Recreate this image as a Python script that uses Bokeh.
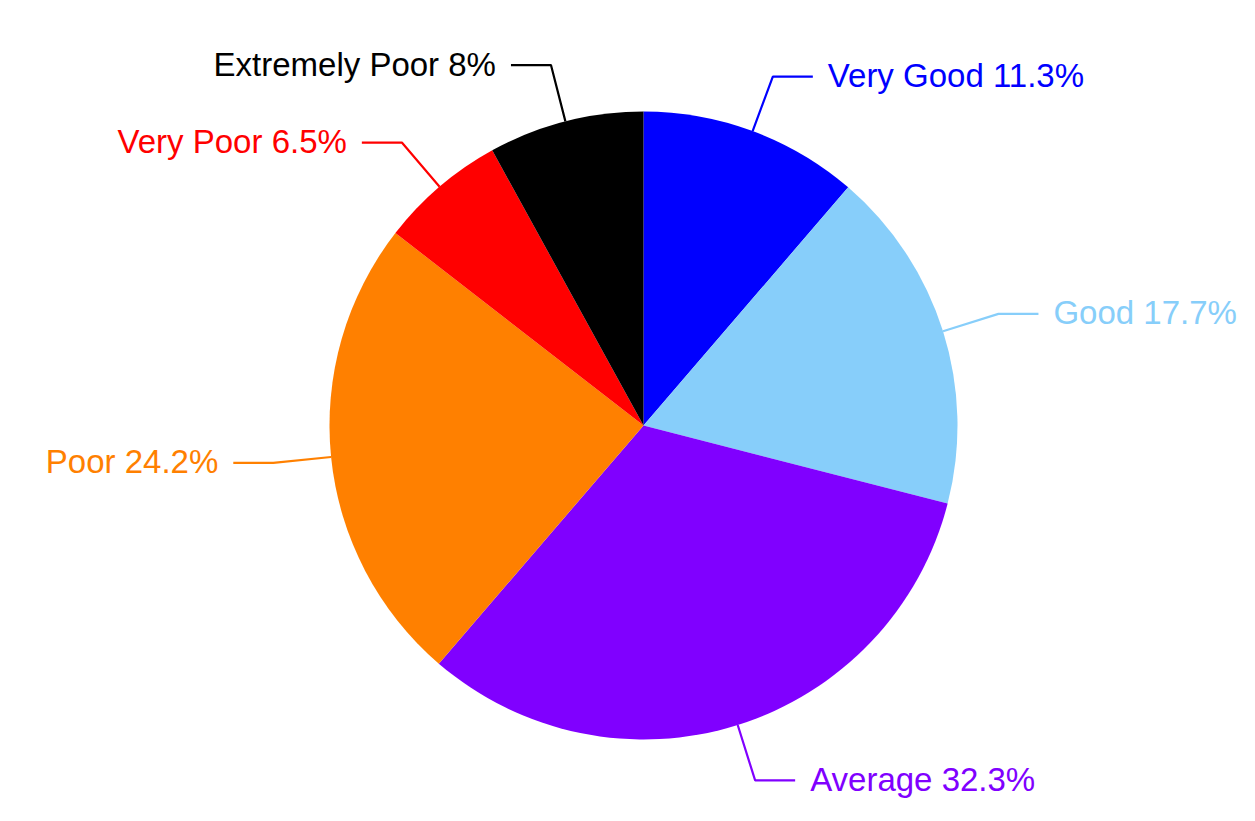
import math
from bokeh.plotting import figure
from bokeh.models import Range1d, ColumnDataSource
from bokeh.core.properties import value
from bokeh.embed import file_html
from bokeh.resources import INLINE

categories = ["Very Good", "Good", "Average", "Poor", "Very Poor", "Extremely Poor"]
percents = [11.3, 17.7, 32.3, 24.2, 6.5, 8.0]
colors = ["#0000FF", "#87CEFA", "#8000FF", "#FF8000", "#FF0000", "#000000"]

W, H = 1255, 821
CX, CY = 643, H - 425
R = 314
KNEE = 1.185
HLEN = 40
GAP = 15

p = figure(width=W, height=H, output_backend="svg", toolbar_location=None,
           x_axis_type=None, y_axis_type=None, min_border=0,
           x_range=Range1d(0, W), y_range=Range1d(0, H))
p.outline_line_color = None
p.grid.visible = False
p.background_fill_color = "white"
p.border_fill_color = "white"

total = sum(percents)
starts, ends, mids = [], [], []
cum = 0.0
for v in percents:
    f0 = cum / total
    f1 = (cum + v) / total
    starts.append(math.pi / 2 - 2 * math.pi * f0)
    ends.append(math.pi / 2 - 2 * math.pi * f1)
    mids.append(2 * math.pi * (f0 + f1) / 2)
    cum += v

src = ColumnDataSource(dict(start=starts, end=ends, color=colors))
p.wedge(x=CX, y=CY, radius=R, start_angle="start", end_angle="end",
        direction="clock", fill_color="color", line_color=None, source=src)

for name, v, c, m in zip(categories, percents, colors, mids):
    sx, sy = CX + R * math.sin(m), CY + R * math.cos(m)
    kx, ky = CX + R * KNEE * math.sin(m), CY + R * KNEE * math.cos(m)
    right = math.sin(m) >= 0
    ex = kx + HLEN if right else kx - HLEN
    p.line([sx, kx, ex], [sy, ky, ky], line_color=c, line_width=2.2)
    tx = ex + GAP if right else ex - GAP
    p.text(x=[tx], y=[ky + 1], text=[f"{name} {v:g}%"], text_color=c,
           text_font=value("Liberation Sans"), text_font_size="33px",
           text_align="left" if right else "right", text_baseline="middle")

open("out.html", "w").write(file_html(p, INLINE))
